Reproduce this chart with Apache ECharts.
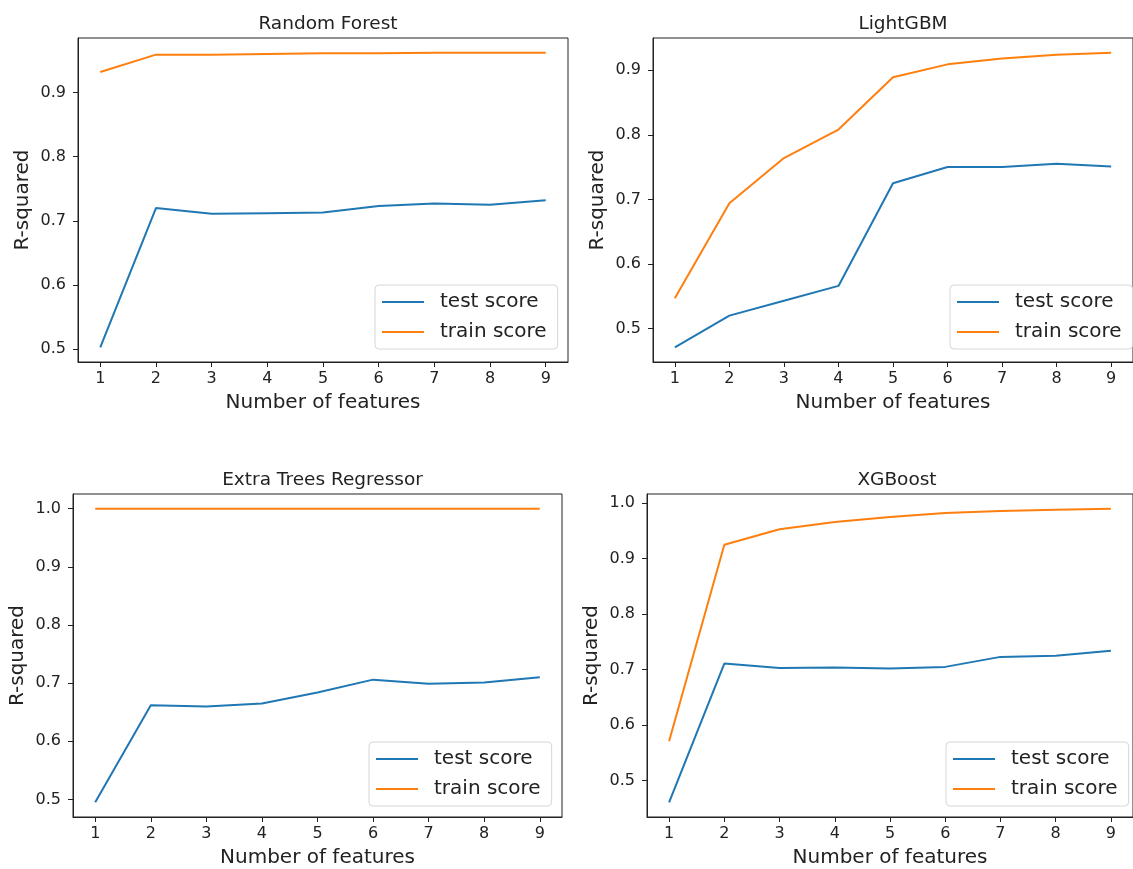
<!DOCTYPE html>
<html>
<head>
<meta charset="utf-8">
<title>R-squared vs number of features</title>
<script src="https://cdn.jsdelivr.net/npm/echarts@6.0.0/dist/echarts.min.js"></script>
<style>
    html, body {
        margin: 0;
        padding: 0;
        background: #fff;
    }
    #charts {
        width: 1133px;
        height: 869px;
    }
</style>
</head>
<body>
<div id="charts"></div>
<script>

// number of features on the x axis
var features = [1, 2, 3, 4, 5, 6, 7, 8, 9];

// Random Forest
var rfTest = [0.503, 0.720, 0.711, 0.712, 0.713, 0.723, 0.727, 0.725, 0.732];
var rfTrain = [0.932, 0.959, 0.959, 0.960, 0.961, 0.961, 0.962, 0.962, 0.962];

// LightGBM
var lgbTest = [0.471, 0.520, 0.543, 0.566, 0.725, 0.750, 0.750, 0.755, 0.751];
var lgbTrain = [0.547, 0.694, 0.764, 0.808, 0.889, 0.909, 0.918, 0.924, 0.927];

// Extra Trees Regressor
var etTest = [0.495, 0.662, 0.660, 0.665, 0.684, 0.706, 0.699, 0.701, 0.710];
var etTrain = [1.0, 1.0, 1.0, 1.0, 1.0, 1.0, 1.0, 1.0, 1.0];

// XGBoost
var xgbTest = [0.461, 0.711, 0.703, 0.704, 0.702, 0.705, 0.723, 0.725, 0.734];
var xgbTrain = [0.571, 0.925, 0.953, 0.966, 0.975, 0.982, 0.986, 0.988, 0.990];

// tick labels
var yTicksLow = [0.5, 0.6, 0.7, 0.8, 0.9];
var yTicksHigh = [0.5, 0.6, 0.7, 0.8, 0.9, 1.0];

var FONT = 'DejaVu Sans';
var INK = '#222';
var BLUE = '#1f77b4';
var ORANGE = '#ff7f0e';

var chart = echarts.init(document.getElementById('charts'));

// one entry per subplot: where it sits and what it shows
var panels = [
    {title: 'Random Forest', test: rfTest, train: rfTrain, ticks: yTicksLow,
        left: 78, top: 38, width: 490, height: 324, legendLeft: 375, legendTop: 285},
    {title: 'LightGBM', test: lgbTest, train: lgbTrain, ticks: yTicksLow,
        left: 653, top: 38, width: 490, height: 324, legendLeft: 950, legendTop: 285},
    {title: 'Extra Trees Regressor', test: etTest, train: etTrain, ticks: yTicksHigh,
        left: 73, top: 494, width: 489, height: 324, legendLeft: 369, legendTop: 742},
    {title: 'XGBoost', test: xgbTest, train: xgbTrain, ticks: yTicksHigh,
        left: 647, top: 494, width: 490, height: 324, legendLeft: 946, legendTop: 742}
];

function pairs(values) {
    return features.map(function (f, i) {
        return [f, values[i]];
    });
}

// matplotlib style auto range: 5% margin on each side
function range(a, b) {
    var all = a.concat(b);
    var lo = Math.min.apply(null, all);
    var hi = Math.max.apply(null, all);
    var pad = (hi - lo) * 0.05;
    return [lo - pad, hi + pad];
}

var option = {
    backgroundColor: '#fff',
    animation: false,
    title: [],
    grid: [],
    xAxis: [],
    yAxis: [],
    legend: [],
    series: []
};

panels.forEach(function (p, i) {
    var yr = range(p.test, p.train);

    option.title.push({
        text: p.title,
        left: p.left + p.width / 2,
        top: p.top - 28,
        textAlign: 'center',
        textStyle: {
            fontFamily: FONT,
            fontSize: 18.5,
            fontWeight: 'normal',
            color: INK
        }
    });

    option.grid.push({
        left: p.left,
        top: p.top,
        width: p.width,
        height: p.height,
        show: true,
        borderColor: INK,
        borderWidth: 1,
        backgroundColor: 'transparent'
    });

    option.xAxis.push({
        type: 'value',
        gridIndex: i,
        min: 0.6,
        max: 9.4,
        name: 'Number of features',
        nameLocation: 'middle',
        nameGap: 31,
        nameTextStyle: {fontFamily: FONT, fontSize: 20, color: INK},
        splitLine: {show: false},
        axisLine: {show: true, onZero: false, lineStyle: {color: INK, width: 1}},
        axisTick: {show: true, length: 5, customValues: features, lineStyle: {color: INK}},
        axisLabel: {
            customValues: features,
            margin: 9,
            fontFamily: FONT,
            fontSize: 16,
            color: INK
        }
    });

    option.yAxis.push({
        type: 'value',
        gridIndex: i,
        min: yr[0],
        max: yr[1],
        name: 'R-squared',
        nameLocation: 'middle',
        nameRotate: 90,
        nameGap: 45,
        nameTextStyle: {fontFamily: FONT, fontSize: 20, color: INK},
        splitLine: {show: false},
        axisLine: {show: true, onZero: false, lineStyle: {color: INK, width: 1}},
        axisTick: {show: true, length: 5, customValues: p.ticks, lineStyle: {color: INK}},
        axisLabel: {
            customValues: p.ticks,
            margin: 12,
            fontFamily: FONT,
            fontSize: 16,
            color: INK,
            formatter: function (v) {
                return v.toFixed(1);
            }
        }
    });

    option.legend.push({
        left: p.legendLeft,
        top: p.legendTop,
        orient: 'vertical',
        padding: [7, 11, 7, 6],
        itemGap: 10,
        itemWidth: 42,
        itemHeight: 14,
        borderColor: '#d6d6d6',
        borderWidth: 1,
        borderRadius: 4,
        backgroundColor: 'rgba(255,255,255,0.8)',
        selectedMode: false,
        itemStyle: {opacity: 0},
        data: ['test score', 'train score'],
        textStyle: {
            fontFamily: FONT,
            fontSize: 20,
            lineHeight: 20,
            color: INK,
            padding: [0, 0, 0, 11]
        }
    });

    option.series.push({
        name: 'test score',
        type: 'line',
        xAxisIndex: i,
        yAxisIndex: i,
        data: pairs(p.test),
        symbol: 'none',
        lineStyle: {color: BLUE, width: 2},
        itemStyle: {color: BLUE}
    });

    option.series.push({
        name: 'train score',
        type: 'line',
        xAxisIndex: i,
        yAxisIndex: i,
        data: pairs(p.train),
        symbol: 'none',
        lineStyle: {color: ORANGE, width: 2},
        itemStyle: {color: ORANGE}
    });
});

chart.setOption(option);

</script>
</body>
</html>
